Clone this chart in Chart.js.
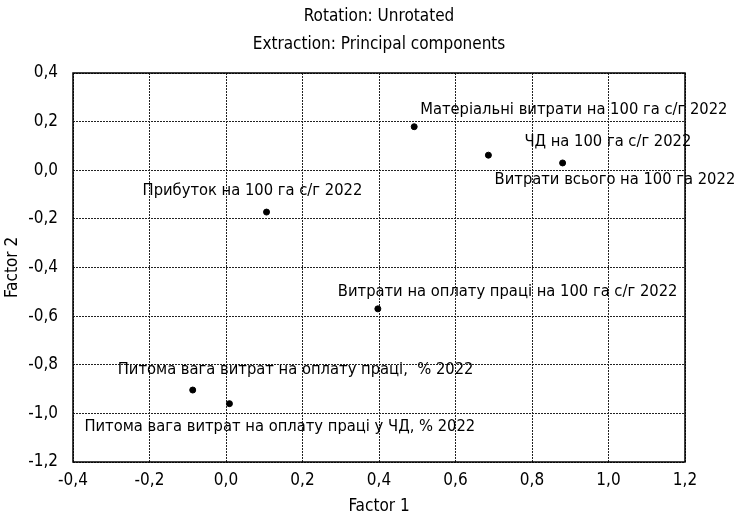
<!DOCTYPE html>
<html>
<head>
<meta charset="utf-8">
<script src="https://cdn.jsdelivr.net/npm/chart.js@4.4.1/dist/chart.umd.min.js"></script>
<style>
  html, body { margin: 0; padding: 0; background: #fff; }
  #wrap { width: 737px; height: 517px; }
</style>
</head>
<body>
<div id="wrap"><canvas id="chart"></canvas></div>
<script>
var FONT = "'Liberation Sans Narrow', 'DejaVu Sans Condensed', sans-serif";

// variable names as labels
var names = [
  "Матеріальні витрати на 100 га с/г 2022",
  "ЧД на 100 га с/г 2022",
  "Витрати всього на 100 га 2022",
  "Прибуток на 100 га с/г 2022",
  "Витрати на оплату праці на 100 га с/г 2022",
  "Питома вага витрат на оплату праці,  % 2022",
  "Питома вага витрат на оплату праці у ЧД, % 2022"
];
// factor loadings
var factor1 = [0.492, 0.686, 0.880, 0.106, 0.397, -0.087, 0.009];
var factor2 = [0.179, 0.062, 0.030, -0.172, -0.570, -0.904, -0.960];

var xTicks = [-0.4, -0.2, 0.0, 0.2, 0.4, 0.6, 0.8, 1.0, 1.2];
var yTicks = [-1.2, -1.0, -0.8, -0.6, -0.4, -0.2, 0.0, 0.2, 0.4];

var titleLines = ["Rotation: Unrotated", "Extraction: Principal components"];

// label placement relative to the point (px), left aligned
var labelShift = [
  [6, -17], [36, -13], [-68, 17], [-124, -21], [-40, -17], [-75, -20], [-145, 23]
];

var pts = factor1.map(function (v, i) { return { x: v, y: factor2[i] }; });

function fmt(v) { return v.toFixed(1).replace(".", ",").replace("-0,0", "0,0"); }

var textPlugin = {
  id: "texts",
  afterDraw: function (chart) {
    var ctx = chart.ctx, a = chart.chartArea;
    ctx.save();
    ctx.strokeStyle = "#000";
    ctx.lineWidth = 1.5;
    ctx.strokeRect(a.left, a.top, a.right - a.left, a.bottom - a.top);

    ctx.fillStyle = "#000";
    ctx.font = "17px " + FONT;
    ctx.textAlign = "center";
    ctx.textBaseline = "middle";
    var cx = (a.left + a.right) / 2;
    ctx.fillText(titleLines[0], cx, 17);
    ctx.fillText(titleLines[1], cx, 45);
    ctx.fillText("Factor 1", cx, 507);
    ctx.save();
    ctx.translate(13, (a.top + a.bottom) / 2);
    ctx.rotate(-Math.PI / 2);
    ctx.fillText("Factor 2", 0, 0);
    ctx.restore();

    var meta = chart.getDatasetMeta(0);
    ctx.textAlign = "left";
    ctx.font = "16.4px " + FONT;
    meta.data.forEach(function (el, i) {
      ctx.fillText(names[i], el.x + labelShift[i][0], el.y + labelShift[i][1]);
    });
    ctx.restore();
  }
};

new Chart(document.getElementById("chart"), {
  type: "scatter",
  data: {
    datasets: [{
      data: pts,
      backgroundColor: "#000",
      borderColor: "#000",
      pointRadius: 3,
      pointHoverRadius: 3
    }]
  },
  options: {
    responsive: true,
    maintainAspectRatio: false,
    animation: false,
    layout: { padding: { top: 73, right: 52, left: 0, bottom: 0 } },
    plugins: { legend: { display: false }, tooltip: { enabled: false }, title: { display: false } },
    scales: {
      x: {
        type: "linear", min: -0.4, max: 1.2,
        afterBuildTicks: function (s) { s.ticks = xTicks.map(function (v) { return { value: v }; }); },
        afterFit: function (s) { s.height = 55; },
        grid: { color: "#222", lineWidth: 1, drawTicks: false },
        border: { display: false, dash: [2, 1] },
        ticks: { color: "#000", font: { family: FONT, size: 17 }, padding: 8, maxRotation: 0,
                 callback: function (v) { return fmt(v); } }
      },
      y: {
        type: "linear", min: -1.2, max: 0.4,
        afterBuildTicks: function (s) { s.ticks = yTicks.map(function (v) { return { value: v }; }); },
        afterFit: function (s) { s.width = 73; },
        grid: { color: "#222", lineWidth: 1, drawTicks: false },
        border: { display: false, dash: [2, 1] },
        ticks: { color: "#000", font: { family: FONT, size: 17 }, padding: 15,
                 callback: function (v) { return fmt(v); } }
      }
    }
  },
  plugins: [textPlugin]
});
</script>
</body>
</html>
